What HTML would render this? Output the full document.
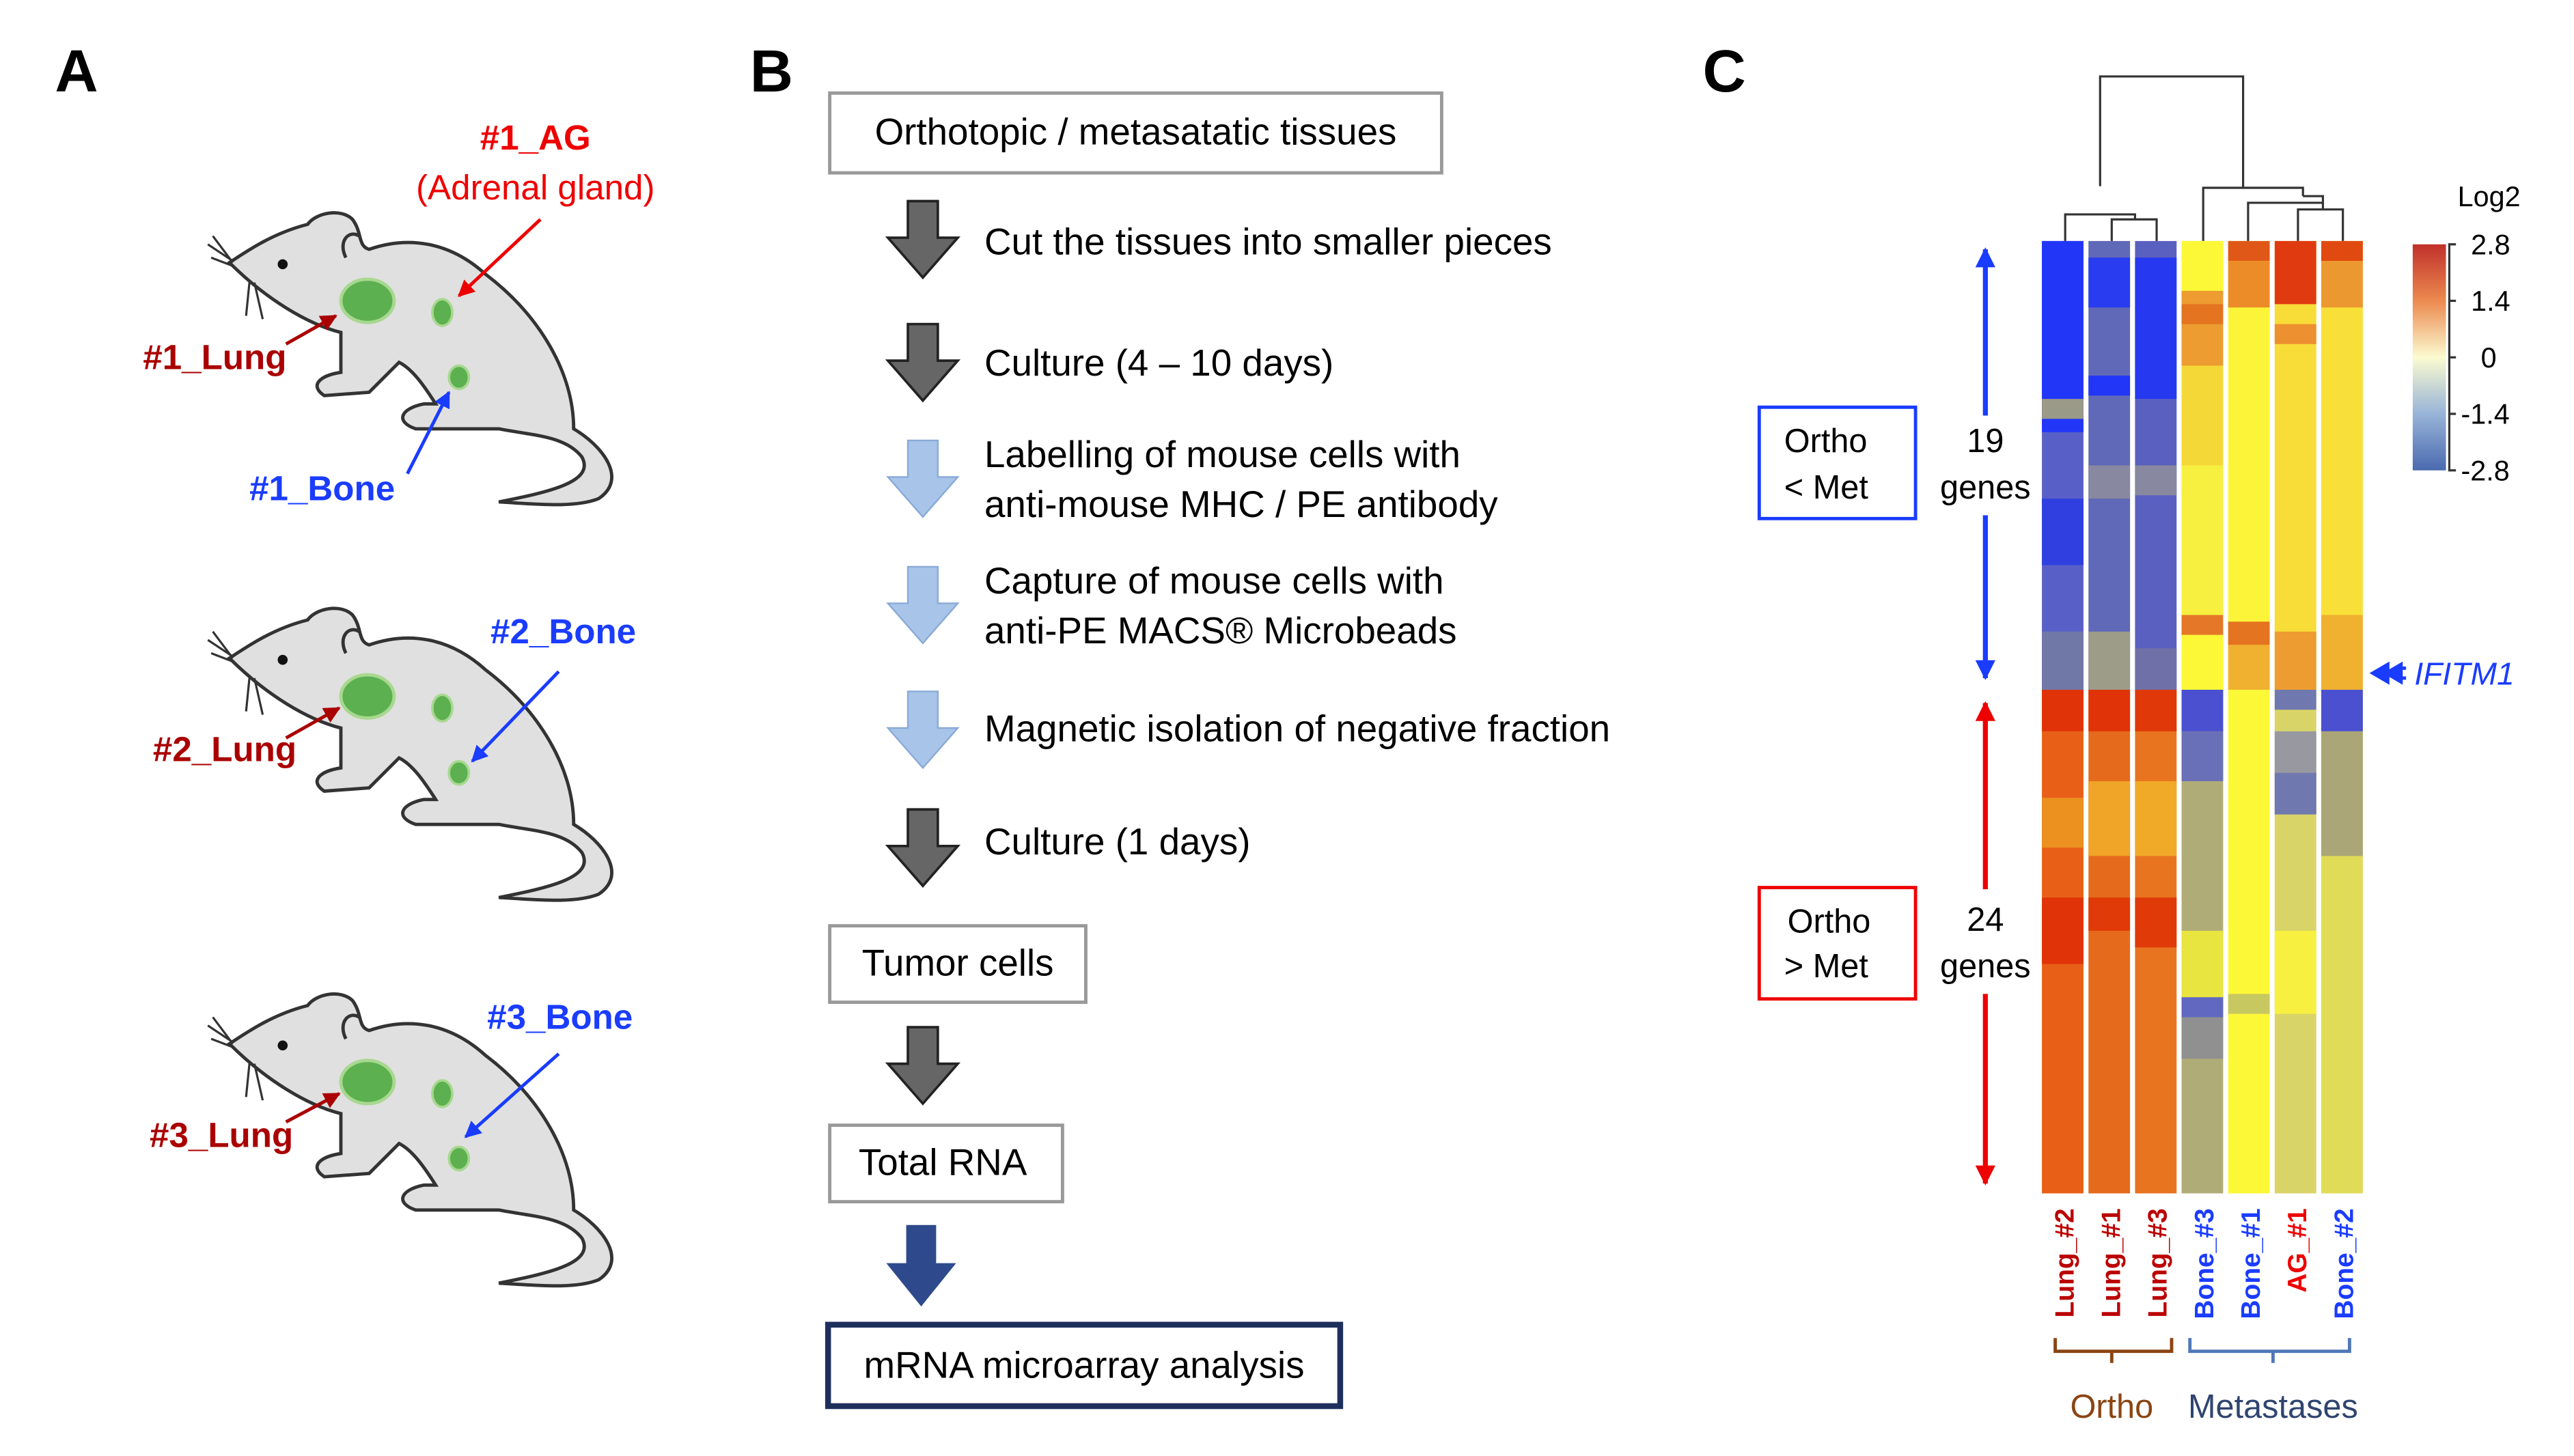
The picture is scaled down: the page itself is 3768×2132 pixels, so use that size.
<!DOCTYPE html>
<html><head><meta charset="utf-8"><style>
html,body{margin:0;padding:0;background:#fff}
svg{display:block}
text{font-family:"Liberation Sans",sans-serif}
</style></head><body>
<svg width="3768" height="2132" viewBox="0 0 1548 876" preserveAspectRatio="none" xmlns="http://www.w3.org/2000/svg">
<defs>
<marker id="ar" viewBox="0 0 10 10" refX="9" refY="5" markerWidth="5" markerHeight="5" orient="auto"><path d="M0,0 L10,5 L0,10 z" fill="#e00"/></marker>
<marker id="adr" viewBox="0 0 10 10" refX="9" refY="5" markerWidth="5" markerHeight="5" orient="auto"><path d="M0,0 L10,5 L0,10 z" fill="#a00"/></marker>
<marker id="ab" viewBox="0 0 10 10" refX="9" refY="5" markerWidth="5" markerHeight="5" orient="auto"><path d="M0,0 L10,5 L0,10 z" fill="#1a3cff"/></marker>
<marker id="ab2" viewBox="0 0 10 10" refX="9" refY="5" markerWidth="4" markerHeight="4" orient="auto"><path d="M0,0 L10,5 L0,10 z" fill="#1a3cff"/></marker>
<marker id="ar2" viewBox="0 0 10 10" refX="9" refY="5" markerWidth="4" markerHeight="4" orient="auto"><path d="M0,0 L10,5 L0,10 z" fill="#e00"/></marker>
<linearGradient id="lg" x1="0" y1="0" x2="0" y2="1">
<stop offset="0" stop-color="#c0302a"/><stop offset="0.25" stop-color="#ec8a50"/><stop offset="0.5" stop-color="#fbfbd0"/><stop offset="0.75" stop-color="#98b4d8"/><stop offset="1" stop-color="#4a6ab0"/></linearGradient>
<g id="mouse">
<path d="M138,158 C150,150 165,140 185,135 C190,128 205,125 212,132 C218,140 215,148 222,150 C245,142 270,145 292,165 C325,190 345,225 345,258 C362,268 378,288 360,300 C345,306 320,303 300,302 C330,296 358,290 350,275 C340,262 320,262 300,258 L250,258 C238,254 240,246 255,243 L262,243 C255,232 248,222 240,218 L222,236 L195,238 C186,232 192,226 205,224 L205,200 C185,195 160,180 138,158 Z" fill="#e0e0e0" stroke="#333" stroke-width="2"/>
<path d="M208,155 C203,145 210,138 216,142" fill="none" stroke="#333" stroke-width="2"/>
<circle cx="170" cy="159" r="3" fill="#111"/>
<path d="M140,157 L125,147 M140,160 L127,155 M150,170 L148,190 M153,170 L158,192 M140,158 L128,142" stroke="#333" stroke-width="1.3"/>
<ellipse cx="221" cy="181" rx="16" ry="13" fill="#5cb050" stroke="#a8d890" stroke-width="2"/>
<ellipse cx="266" cy="188" rx="6" ry="8" fill="#5cb050" stroke="#a8d890" stroke-width="1.5"/>
<ellipse cx="276" cy="227" rx="6" ry="7" fill="#5cb050" stroke="#a8d890" stroke-width="1.5"/>
</g>
<g id="garrow"><path d="M-9,0 H9 V22 H21 L0,46 L-21,22 H-9 Z" fill="#666" stroke="#222" stroke-width="1.5"/></g>
<g id="barrow"><path d="M-9,0 H9 V22 H21 L0,46 L-21,22 H-9 Z" fill="#a8c4e8" stroke="#8aaad8" stroke-width="1"/></g>
</defs>

<!-- Panel A -->
<text x="33" y="55" font-size="36" font-weight="bold">A</text>
<use href="#mouse"/>
<use href="#mouse" transform="translate(0,238)"/>
<use href="#mouse" transform="translate(0,470)"/>
<text x="322" y="90" font-size="21" font-weight="bold" fill="#e00" text-anchor="middle">#1_AG</text>
<text x="322" y="120" font-size="21" fill="#e00" text-anchor="middle">(Adrenal gland)</text>
<line x1="325" y1="132" x2="276" y2="178" stroke="#e00" stroke-width="2" marker-end="url(#ar)"/>
<text x="86" y="222" font-size="21" font-weight="bold" fill="#a00">#1_Lung</text>
<line x1="172" y1="207" x2="202" y2="190" stroke="#a00" stroke-width="2" marker-end="url(#adr)"/>
<text x="150" y="301" font-size="21" font-weight="bold" fill="#1a3cff">#1_Bone</text>
<line x1="245" y1="285" x2="270" y2="236" stroke="#1a3cff" stroke-width="2" marker-end="url(#ab)"/>
<text x="295" y="387" font-size="21" font-weight="bold" fill="#1a3cff">#2_Bone</text>
<line x1="336" y1="404" x2="284" y2="458" stroke="#1a3cff" stroke-width="2" marker-end="url(#ab)"/>
<text x="92" y="458" font-size="21" font-weight="bold" fill="#a00">#2_Lung</text>
<line x1="172" y1="444" x2="204" y2="426" stroke="#a00" stroke-width="2" marker-end="url(#adr)"/>
<text x="293" y="619" font-size="21" font-weight="bold" fill="#1a3cff">#3_Bone</text>
<line x1="336" y1="634" x2="280" y2="684" stroke="#1a3cff" stroke-width="2" marker-end="url(#ab)"/>
<text x="90" y="690" font-size="21" font-weight="bold" fill="#a00">#3_Lung</text>
<line x1="172" y1="675" x2="204" y2="658" stroke="#a00" stroke-width="2" marker-end="url(#adr)"/>

<!-- Panel B -->
<text x="451" y="55" font-size="36" font-weight="bold">B</text>
<rect x="499" y="56" width="368" height="48" fill="#fff" stroke="#999" stroke-width="2"/>
<text x="683" y="87" font-size="22.5" text-anchor="middle">Orthotopic / metasatatic tissues</text>
<use href="#garrow" transform="translate(555,121)"/>
<text x="592" y="153" font-size="22.5">Cut the tissues into smaller pieces</text>
<use href="#garrow" transform="translate(555,195)"/>
<text x="592" y="226" font-size="22.5">Culture (4 – 10 days)</text>
<use href="#barrow" transform="translate(555,265)"/>
<text x="592" y="281" font-size="22.5">Labelling of mouse cells with</text>
<text x="592" y="311" font-size="22.5">anti-mouse MHC / PE antibody</text>
<use href="#barrow" transform="translate(555,341)"/>
<text x="592" y="357" font-size="22.5">Capture of mouse cells with</text>
<text x="592" y="387" font-size="22.5">anti-PE MACS® Microbeads</text>
<use href="#barrow" transform="translate(555,416)"/>
<text x="592" y="446" font-size="22.5">Magnetic isolation of negative fraction</text>
<use href="#garrow" transform="translate(555,487)"/>
<text x="592" y="514" font-size="22.5">Culture (1 days)</text>
<rect x="499" y="557" width="154" height="46" fill="#fff" stroke="#999" stroke-width="2"/>
<text x="576" y="587" font-size="22.5" text-anchor="middle">Tumor cells</text>
<use href="#garrow" transform="translate(555,618)"/>
<rect x="499" y="677" width="140" height="46" fill="#fff" stroke="#999" stroke-width="2"/>
<text x="567" y="707" font-size="22.5" text-anchor="middle">Total RNA</text>
<path d="M545,737 H563 V760 H575 L554,786 L533,760 H545 Z" fill="#2f4a8c"/>
<rect x="498" y="797" width="308" height="49" fill="#fff" stroke="#1f2f5c" stroke-width="3.5"/>
<text x="652" y="829" font-size="22.5" text-anchor="middle">mRNA microarray analysis</text>

<!-- Panel C -->
<text x="1024" y="55" font-size="36" font-weight="bold">C</text>
<g fill="none" stroke="#333" stroke-width="1.3">
<path d="M1263,112 V46 H1349 V113"/>
<path d="M1242,145 V129 H1264 V129 M1270,145 V132 H1297 V145 M1284,132 V129 H1264"/>
<path d="M1325,145 V113 H1385 V118"/>
<path d="M1352,145 V122 H1397 V118 H1385 M1382,145 V126 H1409 V145 M1397,122 V126"/>
</g>
<g>
<rect x="1228" y="145" width="25" height="270" fill="#5860c8"/>
<rect x="1228" y="145" width="25" height="115" fill="#2236f8"/>
<rect x="1228" y="240" width="25" height="12" fill="#9a9a88"/>
<rect x="1228" y="300" width="25" height="40" fill="#3040e0"/>
<rect x="1228" y="380" width="25" height="35" fill="#7078a8"/>
<rect x="1256" y="145" width="25" height="270" fill="#6068b8"/>
<rect x="1256" y="155" width="25" height="30" fill="#2a3cf0"/>
<rect x="1256" y="226" width="25" height="12" fill="#2236f8"/>
<rect x="1256" y="280" width="25" height="20" fill="#8888a0"/>
<rect x="1256" y="380" width="25" height="35" fill="#9c9c88"/>
<rect x="1284" y="145" width="25" height="270" fill="#5a60c0"/>
<rect x="1284" y="155" width="25" height="85" fill="#2638f0"/>
<rect x="1284" y="280" width="25" height="18" fill="#8888a0"/>
<rect x="1284" y="390" width="25" height="25" fill="#7070a8"/>
<rect x="1312" y="145" width="25" height="270" fill="#f4d838"/>
<rect x="1312" y="145" width="25" height="30" fill="#fcf838"/>
<rect x="1312" y="175" width="25" height="45" fill="#ec9c30"/>
<rect x="1312" y="183" width="25" height="12" fill="#e47420"/>
<rect x="1312" y="280" width="25" height="90" fill="#f8f040"/>
<rect x="1312" y="370" width="25" height="12" fill="#e47828"/>
<rect x="1312" y="382" width="25" height="33" fill="#fcf838"/>
<rect x="1340" y="145" width="25" height="270" fill="#fcf438"/>
<rect x="1340" y="145" width="25" height="12" fill="#e05818"/>
<rect x="1340" y="157" width="25" height="28" fill="#ec8c28"/>
<rect x="1340" y="374" width="25" height="14" fill="#e47420"/>
<rect x="1340" y="388" width="25" height="27" fill="#f0b030"/>
<rect x="1368" y="145" width="25" height="270" fill="#f8dc38"/>
<rect x="1368" y="145" width="25" height="38" fill="#e03a10"/>
<rect x="1368" y="195" width="25" height="12" fill="#ec9030"/>
<rect x="1368" y="380" width="25" height="35" fill="#ec9c30"/>
<rect x="1396" y="145" width="25" height="270" fill="#f8e038"/>
<rect x="1396" y="145" width="25" height="12" fill="#e04a10"/>
<rect x="1396" y="157" width="25" height="28" fill="#ec9830"/>
<rect x="1396" y="370" width="25" height="45" fill="#f0b030"/>
</g>
<g>
<rect x="1228" y="415" width="25" height="303" fill="#e86018"/>
<rect x="1228" y="415" width="25" height="25" fill="#e03408"/>
<rect x="1228" y="480" width="25" height="30" fill="#ec9020"/>
<rect x="1228" y="540" width="25" height="40" fill="#e03408"/>
<rect x="1256" y="415" width="25" height="303" fill="#e66a1c"/>
<rect x="1256" y="415" width="25" height="25" fill="#e03408"/>
<rect x="1256" y="470" width="25" height="45" fill="#f0a428"/>
<rect x="1256" y="540" width="25" height="20" fill="#e03a08"/>
<rect x="1284" y="415" width="25" height="303" fill="#e87420"/>
<rect x="1284" y="415" width="25" height="25" fill="#e03808"/>
<rect x="1284" y="470" width="25" height="45" fill="#f0aa28"/>
<rect x="1284" y="540" width="25" height="30" fill="#e03a08"/>
<rect x="1312" y="415" width="25" height="303" fill="#b0ac78"/>
<rect x="1312" y="415" width="25" height="25" fill="#4a50d0"/>
<rect x="1312" y="440" width="25" height="30" fill="#6a70b8"/>
<rect x="1312" y="560" width="25" height="40" fill="#e8e440"/>
<rect x="1312" y="600" width="25" height="12" fill="#6068c0"/>
<rect x="1312" y="612" width="25" height="25" fill="#909090"/>
<rect x="1340" y="415" width="25" height="303" fill="#fcf838"/>
<rect x="1340" y="598" width="25" height="12" fill="#c8c860"/>
<rect x="1368" y="415" width="25" height="303" fill="#d8d468"/>
<rect x="1368" y="415" width="25" height="12" fill="#7078b0"/>
<rect x="1368" y="440" width="25" height="50" fill="#9898a0"/>
<rect x="1368" y="465" width="25" height="25" fill="#7078b0"/>
<rect x="1368" y="560" width="25" height="50" fill="#f8f040"/>
<rect x="1396" y="415" width="25" height="303" fill="#e0dc58"/>
<rect x="1396" y="415" width="25" height="25" fill="#4a50d0"/>
<rect x="1396" y="440" width="25" height="75" fill="#aaa678"/>
</g>
<text x="1478" y="124" font-size="17">Log2</text>
<rect x="1451" y="147" width="20" height="136" fill="url(#lg)"/>
<path d="M1477,147 H1473 V283 H1477 M1473,181 H1477 M1473,215 H1477 M1473,249 H1477" fill="none" stroke="#333" stroke-width="1.3"/>
<g font-size="17"><text x="1486" y="153">2.8</text><text x="1486" y="187">1.4</text><text x="1492" y="221">0</text><text x="1480" y="255">-1.4</text><text x="1480" y="289">-2.8</text></g>
<path d="M1425,405 L1437,398 V412 Z M1433,405 L1445,398 V412 Z" fill="#1a3cff"/>
<line x1="1440" y1="402" x2="1447" y2="402" stroke="#1a3cff" stroke-width="2"/>
<line x1="1440" y1="408" x2="1447" y2="408" stroke="#1a3cff" stroke-width="2"/>
<text x="1452" y="412" font-size="19" font-style="italic" fill="#1a3cff">IFITM1</text>
<rect x="1058" y="245" width="94" height="67" fill="none" stroke="#1a3cff" stroke-width="2"/>
<text x="1073" y="272" font-size="20">Ortho</text><text x="1073" y="300" font-size="20">&lt; Met</text>
<rect x="1058" y="534" width="94" height="67" fill="none" stroke="#e00" stroke-width="2"/>
<text x="1075" y="561" font-size="20">Ortho</text><text x="1073" y="588" font-size="20">&gt; Met</text>
<line x1="1194" y1="250" x2="1194" y2="150" stroke="#1a3cff" stroke-width="3" marker-end="url(#ab2)"/>
<line x1="1194" y1="310" x2="1194" y2="408" stroke="#1a3cff" stroke-width="3" marker-end="url(#ab2)"/>
<text x="1194" y="272" font-size="20" text-anchor="middle">19</text><text x="1194" y="300" font-size="20" text-anchor="middle">genes</text>
<line x1="1194" y1="535" x2="1194" y2="423" stroke="#e00" stroke-width="3" marker-end="url(#ar2)"/>
<line x1="1194" y1="598" x2="1194" y2="712" stroke="#e00" stroke-width="3" marker-end="url(#ar2)"/>
<text x="1194" y="560" font-size="20" text-anchor="middle">24</text><text x="1194" y="588" font-size="20" text-anchor="middle">genes</text>
<g font-size="16" font-weight="bold" text-anchor="end">
<text transform="translate(1247,727) rotate(-90)" fill="#b00">Lung_#2</text>
<text transform="translate(1275,727) rotate(-90)" fill="#b00">Lung_#1</text>
<text transform="translate(1303,727) rotate(-90)" fill="#b00">Lung_#3</text>
<text transform="translate(1331,727) rotate(-90)" fill="#1a3cff">Bone_#3</text>
<text transform="translate(1359,727) rotate(-90)" fill="#1a3cff">Bone_#1</text>
<text transform="translate(1387,727) rotate(-90)" fill="#e00">AG_#1</text>
<text transform="translate(1415,727) rotate(-90)" fill="#1a3cff">Bone_#2</text>
</g>
<path d="M1236,805 V813 H1306 V805 M1270,813 V820" fill="none" stroke="#8b4513" stroke-width="2"/>
<path d="M1317,805 V813 H1413 V805 M1367,813 V820" fill="none" stroke="#5078b8" stroke-width="2"/>
<text x="1270" y="853" font-size="20" fill="#8b4513" text-anchor="middle">Ortho</text>
<text x="1367" y="853" font-size="20" fill="#2f4470" text-anchor="middle">Metastases</text>
</svg>
</body></html>
